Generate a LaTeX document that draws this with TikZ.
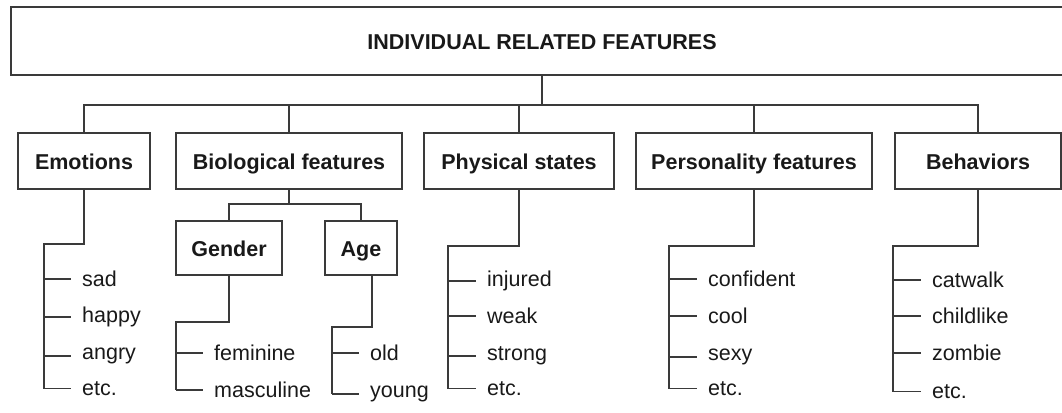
\documentclass[tikz,border=0pt]{standalone}
\usepackage{fontspec}
\setmainfont{Liberation Sans}
\definecolor{linec}{HTML}{3a3a3a}
\begin{document}
\begin{tikzpicture}[x=1pt,y=-1pt,
  box/.style={draw=linec, line width=1.2pt, font=\fontsize{21.5}{25}\selectfont\bfseries, inner sep=0pt, text height=17pt, text depth=0pt, minimum height=56pt, text=black!90},
  leaf/.style={anchor=mid west, inner xsep=11pt, inner ysep=0pt, font=\fontsize{21.5}{25}\selectfont, text=black!90},
  conn/.style={draw=linec, line width=1.2pt}]
\useasboundingbox (0,0) rectangle (1062,412);
% top
\node[box, minimum width=1062pt, minimum height=68pt] (top) at (542,41) {INDIVIDUAL RELATED FEATURES};
\node[box, minimum width=132pt] (emo) at (84,161) {Emotions};
\node[box, minimum width=226pt] (bio) at (289,161) {Biological features};
\node[box, minimum width=190pt] (phy) at (519,161) {Physical states};
\node[box, minimum width=236pt] (per) at (754,161) {Personality features};
\node[box, minimum width=166pt] (beh) at (978,161) {Behaviors};
\node[box, minimum width=106pt, minimum height=54pt] (gen) at (229,248) {Gender};
\node[box, minimum width=72pt, minimum height=54pt] (age) at (361,248) {Age};
% bus
\coordinate (bus) at (542,105);
\draw[conn] (top.south) -- (bus);
\draw[conn] (emo.north) |- (bus);
\draw[conn] (beh.north) |- (bus);
\draw[conn] (bio.north) -- (bio.north |- bus);
\draw[conn] (phy.north) -- (phy.north |- bus);
\draw[conn] (per.north) -- (per.north |- bus);
% biological split
\coordinate (bioJ) at (289,204);
\draw[conn] (bio.south) -- (bioJ);
\draw[conn] (gen.north) |- (bioJ) -| (age.north);
% leaves
\node[leaf] (e1) at (71,284) {sad};
\node[leaf] (e2) at (71,320) {happy};
\node[leaf] (e3) at (71,357) {angry};
\node[leaf] (e4) at (71,393) {etc.};
\node[leaf] (g1) at (203,358) {feminine};
\node[leaf] (g2) at (203,395) {masculine};
\node[leaf] (a1) at (359,358) {old};
\node[leaf] (a2) at (359,395) {young};
\node[leaf] (p1) at (476,284) {injured};
\node[leaf] (p2) at (476,321) {weak};
\node[leaf] (p3) at (476,358) {strong};
\node[leaf] (p4) at (476,393) {etc.};
\node[leaf] (q1) at (697,284) {confident};
\node[leaf] (q2) at (697,321) {cool};
\node[leaf] (q3) at (697,358) {sexy};
\node[leaf] (q4) at (697,393) {etc.};
\node[leaf] (b1) at (921,285) {catwalk};
\node[leaf] (b2) at (921,321) {childlike};
\node[leaf] (b3) at (921,358) {zombie};
\node[leaf] (b4) at (921,396) {etc.};
% brackets
\coordinate (eB) at (44,244);
\coordinate (gB) at (176,322);
\coordinate (aB) at (332,327);
\coordinate (pB) at (448,246);
\coordinate (qB) at (669,246);
\coordinate (bB) at (893,246);
\draw[conn] (emo.south) |- (eB) -- (eB |- e4.west);
\draw[conn] (gen.south) |- (gB) -- (gB |- g2.west);
\draw[conn] ([xshift=11pt]age.south) |- (aB) -- (aB |- a2.west);
\draw[conn] (phy.south) |- (pB) -- (pB |- p4.west);
\draw[conn] (per.south) |- (qB) -- (qB |- q4.west);
\draw[conn] (beh.south) |- (bB) -- (bB |- b4.west);
\foreach \n in {e1,e2,e3,e4} \draw[conn] (eB |- \n.west) -- (\n.west);
\foreach \n in {g1,g2} \draw[conn] (gB |- \n.west) -- (\n.west);
\foreach \n in {a1,a2} \draw[conn] (aB |- \n.west) -- (\n.west);
\foreach \n in {p1,p2,p3,p4} \draw[conn] (pB |- \n.west) -- (\n.west);
\foreach \n in {q1,q2,q3,q4} \draw[conn] (qB |- \n.west) -- (\n.west);
\foreach \n in {b1,b2,b3,b4} \draw[conn] (bB |- \n.west) -- (\n.west);
\end{tikzpicture}
\end{document}
